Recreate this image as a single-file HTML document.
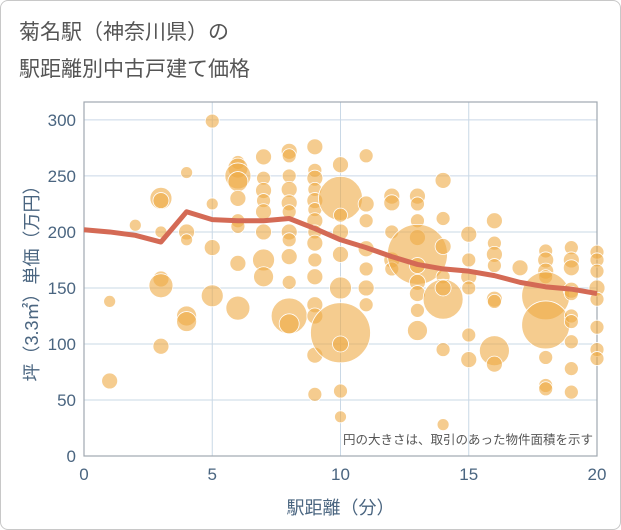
<!DOCTYPE html>
<html><head><meta charset="utf-8"><style>
body{margin:0;background:#fff;}
#wrap{position:relative;width:619px;height:528px;border:1px solid #c8c8c8;border-radius:8px;overflow:hidden;font-family:"Liberation Sans","Noto Sans CJK JP",sans-serif;}
.title{position:absolute;left:18px;color:#555;font-size:21px;line-height:32px;}
</style></head><body>
<div id="wrap">
<div class="title" style="top:16px">菊名駅（神奈川県）の</div>
<div class="title" style="top:53px">駅距離別中古戸建て価格</div>
<svg id="chart" width="621" height="530" style="position:absolute;left:-1px;top:-1px"></svg>
</div>
<script>
const xTicks=[0,5,10,15,20];
const yTicks=[0,50,100,150,200,250,300];
const lineX=[0,1,2,3,4,5,6,7,8,9,10,11,12,13,14,15,16,17,18,19,20];
const lineY=[202,200,197,191,218,211,210,210,212,203,193,186,178,171,167,165,161,155,151,149,145];
const bubbleX=[1,1,2,3,3,3,3,3,3,4,4,4,4,4,5,5,5,5,6,6,6,6,6,6,6,6,6,7,7,7,7,7,7,7,7,8,8,8,8,8,8,8,8,8,8,8,8,9,9,9,9,9,9,9,9,9,9,9,9,9,9,9,10,10,10,10,10,10,10,10,10,10,11,11,11,11,11,11,11,12,12,12,12,12,13,13,13,13,13,13,13,13,13,13,14,14,14,14,14,14,14,14,15,15,15,15,15,15,16,16,16,16,16,16,16,16,17,18,18,18,18,18,18,18,18,18,19,19,19,19,19,19,19,19,19,19,20,20,20,20,20,20,20,20];
const bubbleY=[138,67,206,230,228,200,158,152,98,253,200,193,125,120,299,225,186,143,262,257,250,245,230,210,205,172,132,267,248,237,228,218,200,175,160,272,268,250,238,226,218,200,193,178,155,125,118,276,255,248,238,228,220,210,200,190,175,160,135,125,90,55,260,230,215,200,180,150,110,100,58,35,268,225,210,185,167,150,135,232,226,200,175,167,232,225,210,195,180,170,155,145,130,112,246,212,187,160,140,150,95,28,198,175,160,150,108,86,210,190,180,170,140,138,94,82,168,183,175,165,160,143,117,88,63,60,186,175,168,148,145,125,120,102,78,57,182,175,165,150,140,115,95,87];
const bubbleR=[6,8,6,11,8,6,8,12,8,6,8,6,10,10,7,6,8,11,7,10,13,10,8,7,7,8,12,8,7,8,7,8,8,11,10,8,7,7,8,8,7,8,7,8,7,18,10,8,7,8,7,8,7,8,7,8,7,8,8,8,8,7,8,22,7,8,8,11,30,8,7,6,7,8,7,8,7,8,7,8,8,7,8,7,8,7,7,8,30,8,8,8,7,10,8,7,8,7,20,8,7,6,8,7,8,7,7,8,8,7,8,7,8,7,15,8,8,7,8,8,7,24,24,7,7,7,7,8,8,8,7,7,7,7,7,7,7,7,7,8,7,7,7,7,7];
const NS='http://www.w3.org/2000/svg';
const svg=document.getElementById('chart');
const L=84,R=597,T=102,B=456;
const xs=v=>L+v/20*(R-L);
const ys=v=>B-v/316*(B-T);
function mk(t,a,p){const e=document.createElementNS(NS,t);for(const k in a)e.setAttribute(k,a[k]);(p||svg).appendChild(e);return e;}
yTicks.forEach(v=>{const g=mk('line',{x1:L,x2:R,y1:ys(v),y2:ys(v),stroke:'#c9d8e6','stroke-width':1});

const t=mk('text',{x:L-8,y:ys(v)+6,'text-anchor':'end','font-size':17,fill:'#4a6580'});t.textContent=v;
});
xTicks.forEach(v=>{const g=mk('line',{x1:xs(v),x2:xs(v),y1:T,y2:B,stroke:'#c9d8e6','stroke-width':1});

const t=mk('text',{x:xs(v),y:B+24,'text-anchor':'middle','font-size':17,fill:'#4a6580'});t.textContent=v;
});
const fr=mk('rect',{x:L,y:T,width:R-L,height:B-T,fill:'none',stroke:'#a0a8b0','stroke-width':1.2});

const cg=mk('g',{});
bubbleX.forEach((x,i)=>{const c=mk('circle',{cx:xs(x),cy:ys(bubbleY[i]),r:bubbleR[i],fill:'#eeaa44','fill-opacity':0.6,stroke:'#fff','stroke-width':0.8},cg);
});
const pl=mk('polyline',{points:lineX.map((x,i)=>xs(x)+','+ys(lineY[i])).join(' '),fill:'none',stroke:'#d46a55','stroke-width':5,'stroke-linejoin':'round'});

const note=mk('text',{x:R-4,y:B-12,'text-anchor':'end','font-size':12.5,fill:'#555'});note.textContent='円の大きさは、取引のあった物件面積を示す';

const xt=mk('text',{x:(L+R)/2,y:514,'text-anchor':'middle','font-size':18,fill:'#4a6580'});xt.textContent='駅距離（分）';

const yt=mk('text',{x:0,y:0,'text-anchor':'middle','font-size':18,fill:'#4a6580',transform:'translate(38,'+((T+B)/2)+') rotate(-90)'});yt.textContent='坪（3.3㎡）単価（万円）';

</script>
</body></html>
